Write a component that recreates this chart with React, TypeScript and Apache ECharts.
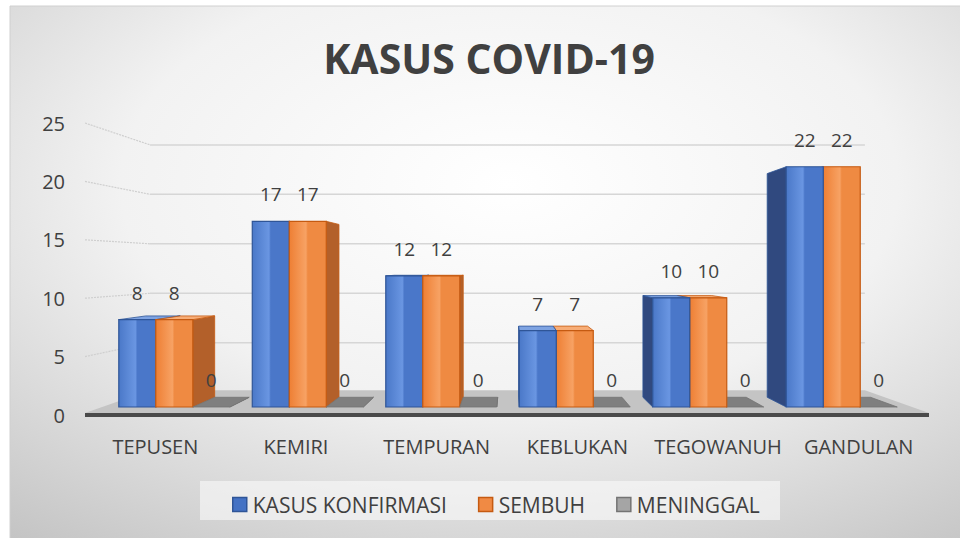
import React, { useEffect, useRef } from "react";
import * as echarts from "echarts";

const categories = ["TEPUSEN", "KEMIRI", "TEMPURAN", "KEBLUKAN", "TEGOWANUH", "GANDULAN"];
const kasusKonfirmasi = [8, 17, 12, 7, 10, 22];
const sembuh = [8, 17, 12, 7, 10, 22];
const meninggal = [0, 0, 0, 0, 0, 0];
const seriesNames = ["KASUS KONFIRMASI", "SEMBUH", "MENINGGAL"];
const yTicks = [0, 5, 10, 15, 20, 25];
const titleText = "KASUS COVID-19";

// perspective geometry (style constants)
const VX = 510;
const VY = 266;
const WALL_F = 0.847;
const BAR_R = 0.931;
const FRONT_K = 0.935;
const BAR_FRONT_OFFSET = 8;
const BAR_W = 37;
const GROUP_CX = 527;
const GROUP_K = 0.949;
const FLOOR_X1 = 85;
const FLOOR_X2 = 929;
const FONT = '"Open Sans", "Noto Sans", sans-serif';
const TEXT_COLOR = "#404040";

const palettes = [
  { front: ["#4a78c8", "#6a96e2", "#4a77c9"], side: "#30497f", top: "#7ea3e2", stroke: "#2f5597", legend: "#4472c4" },
  { front: ["#ee7f34", "#f7a264", "#ef8a42"], side: "#b3602a", top: "#f7ad77", stroke: "#c55a11", legend: "#f08a44" },
  { front: ["#8a8a8a", "#9a9a9a", "#8a8a8a"], side: "#6f6f6f", top: "#7f7f7f", stroke: "#737373", legend: "#a5a5a5" },
];

const proj = (x: number, y: number, f: number): number[] => [VX + (x - VX) * f, VY + (y - VY) * f];

function makeBarRender(s: number) {
  return (params: any, api: any) => {
    const i = api.value(0);
    const v = api.value(1);
    const p0 = api.coord([i, 0]);
    const pv = api.coord([i, v]);
    const cx = p0[0];
    const y0 = p0[1];
    const gc = GROUP_CX + (cx - GROUP_CX) * GROUP_K;
    const xl = gc - 1.5 * BAR_W + s * BAR_W;
    const xr = xl + BAR_W;
    const yb = y0 - BAR_FRONT_OFFSET;
    const yt = yb - (y0 - pv[1]) * FRONT_K;
    const pal = palettes[s];
    const leftOfV = gc < VX;
    const base = (leftOfV ? s : 2 - s) * 10;
    const children: any[] = [];
    if (xr < VX) {
      children.push({
        type: "polygon",
        z2: base + 1,
        shape: { points: [[xr, yt], [xr, yb], proj(xr, yb, BAR_R), proj(xr, yt, BAR_R)] },
        style: { fill: pal.side, stroke: pal.stroke, lineWidth: 0.8 },
      });
    }
    if (xl > VX) {
      children.push({
        type: "polygon",
        z2: base + 1,
        shape: { points: [[xl, yt], [xl, yb], proj(xl, yb, BAR_R), proj(xl, yt, BAR_R)] },
        style: { fill: pal.side, stroke: pal.stroke, lineWidth: 0.8 },
      });
    }
    if (yt > VY) {
      children.push({
        type: "polygon",
        z2: base + 2,
        shape: { points: [[xl, yt], [xr, yt], proj(xr, yt, BAR_R), proj(xl, yt, BAR_R)] },
        style: { fill: pal.top, stroke: pal.stroke, lineWidth: 0.8 },
      });
    }
    if (yb - yt > 0.5) {
      children.push({
        type: "rect",
        z2: base + 3,
        shape: { x: xl, y: yt, width: BAR_W, height: yb - yt },
        style: {
          fill: new echarts.graphic.LinearGradient(0, 0, 1, 0, [
            { offset: 0, color: pal.front[0] },
            { offset: 0.45, color: pal.front[1] },
            { offset: 0.5, color: pal.front[2] },
            { offset: 1, color: pal.front[2] },
          ]),
          stroke: pal.stroke,
          lineWidth: 1.2,
        },
      });
    }
    children.push({
      type: "text",
      z2: 100,
      style: {
        text: String(v),
        x: (xl + xr) / 2,
        y: yt - 27,
        align: "center",
        verticalAlign: "middle",
        fontSize: 19,
        fontFamily: FONT,
        fill: TEXT_COLOR,
      },
    });
    return { type: "group", children };
  };
}

function wallRender(params: any, api: any) {
  const v = api.value(1);
  const y = api.coord([0, v])[1];
  const b1 = proj(FLOOR_X1, y, WALL_F);
  const b2 = proj(FLOOR_X2, y, WALL_F);
  if (v === 0) {
    return {
      type: "group",
      children: [
        {
          type: "polygon",
          z2: -5,
          shape: { points: [[FLOOR_X1, y - 2], [FLOOR_X2, y - 2], [b2[0], b2[1] - 2], [b1[0], b1[1] - 2]] },
          style: { fill: "#c4c4c4" },
        },
        {
          type: "rect",
          z2: -4,
          shape: { x: FLOOR_X1, y: y - 2, width: FLOOR_X2 - FLOOR_X1, height: 4 },
          style: { fill: "#4a4a4a" },
        },
      ],
    };
  }
  return {
    type: "group",
    children: [
      {
        type: "line",
        z2: -6,
        shape: { x1: FLOOR_X1, y1: y, x2: b1[0], y2: b1[1] },
        style: { stroke: "#cfcfcf", lineWidth: 1.2, lineDash: [2, 1] },
      },
      {
        type: "line",
        z2: -6,
        shape: { x1: b1[0], y1: b1[1], x2: b2[0], y2: b2[1] },
        style: { stroke: "#d6d6d6", lineWidth: 1.5 },
      },
    ],
  };
}

export default function App() {
  const ref = useRef<HTMLDivElement>(null);
  useEffect(() => {
    if (!ref.current) return;
    const chart = echarts.init(ref.current, undefined, { renderer: "svg" });
    const seriesData = [kasusKonfirmasi, sembuh, meninggal];
    const option: any = {
      animation: false,
      graphic: [
        {
          type: "rect",
          z: -10,
          shape: { x: 10, y: 6, width: 960, height: 540 },
          style: {
            fill: new echarts.graphic.RadialGradient(0.52, 0.33, 0.9, [
              { offset: 0, color: "#ffffff" },
              { offset: 0.45, color: "#f2f2f2" },
              { offset: 1, color: "#bdbdbd" },
            ]),
            stroke: "#d0d0d0",
            lineWidth: 1,
          },
        },
        {
          type: "rect",
          z: -9,
          shape: { x: 200, y: 481, width: 580, height: 39 },
          style: { fill: "rgba(250,250,250,0.6)" },
        },
        {
          type: "text",
          z: 10,
          style: {
            text: titleText,
            x: 489,
            y: 58,
            align: "center",
            verticalAlign: "middle",
            fontSize: 41,
            fontWeight: "bold",
            fontFamily: FONT,
            fill: TEXT_COLOR,
          },
        },
      ],
      legend: {
        data: seriesNames.map((n, k) => ({
          name: n,
          itemStyle: { color: palettes[k].legend, borderColor: palettes[k].stroke, borderWidth: 1.5 },
        })),
        left: 232,
        top: 494,
        padding: 0,
        itemWidth: 14,
        itemHeight: 14,
        itemGap: 31,
        icon: "rect",
        textStyle: { fontSize: 21, color: TEXT_COLOR, fontFamily: FONT, padding: [0, 0, 0, 1] },
      },
      grid: { left: FLOOR_X1, right: 960 - FLOOR_X2, top: 123, bottom: 123 },
      xAxis: {
        type: "category",
        data: categories,
        axisLine: { show: false },
        axisTick: { show: false },
        axisLabel: { color: TEXT_COLOR, fontSize: 20, fontFamily: FONT, margin: 21, interval: 0 },
      },
      yAxis: {
        type: "value",
        min: 0,
        max: 25,
        interval: 5,
        axisLine: { show: false },
        axisTick: { show: false },
        splitLine: { show: false },
        axisLabel: { color: TEXT_COLOR, fontSize: 20, fontFamily: FONT, margin: 20 },
      },
      series: [
        {
          name: "walls",
          type: "custom",
          silent: true,
          clip: false,
          renderItem: wallRender,
          data: yTicks.map((t) => [0, t]),
          z: 1,
        },
        ...seriesNames.map((n, s) => ({
          name: n,
          type: "custom",
          clip: false,
          renderItem: makeBarRender(s),
          itemStyle: { color: palettes[s].legend, borderColor: palettes[s].stroke },
          data: seriesData[s].map((v, i) => [i, v]),
          z: 2,
        })),
      ],
    };
    chart.setOption(option);
    return () => chart.dispose();
  }, []);
  return (
    <div
      ref={ref}
      style={{ position: "absolute", left: 0, top: 0, width: 960, height: 538, background: "#ffffff" }}
    />
  );
}
